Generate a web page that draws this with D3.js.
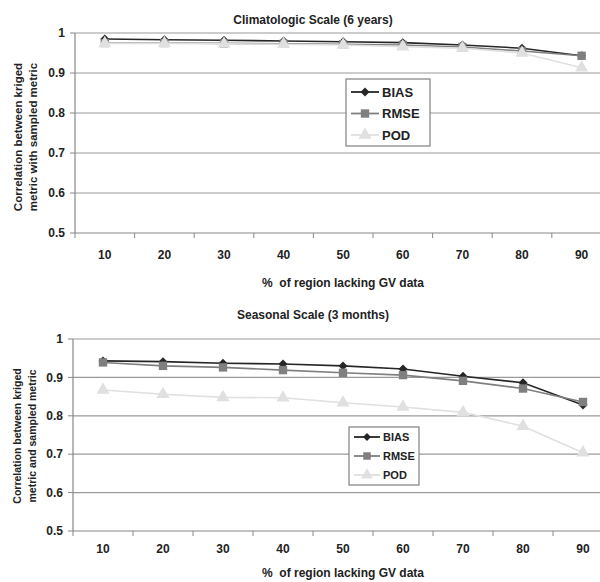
<!DOCTYPE html>
<html><head><meta charset="utf-8">
<script src="https://cdn.jsdelivr.net/npm/d3@7/dist/d3.min.js"></script>
<style>body{margin:0;background:#fff}svg{display:block}text{font-family:"Liberation Sans",Arial,sans-serif;font-weight:bold;fill:#222}</style>
</head><body><svg id="c" width="600" height="582"></svg>
<script>
const categories = ["10","20","30","40","50","60","70","80","90"];
const yTicks = [0.5,0.6,0.7,0.8,0.9,1];
const seriesNames = ["BIAS","RMSE","POD"];
const climBIAS = [0.985,0.983,0.982,0.980,0.978,0.976,0.970,0.962,0.943];
const climRMSE = [0.975,0.975,0.974,0.973,0.972,0.970,0.965,0.955,0.943];
const climPOD  = [0.974,0.974,0.973,0.972,0.970,0.966,0.962,0.950,0.913];
const seasBIAS = [0.943,0.941,0.937,0.935,0.930,0.922,0.903,0.886,0.828];
const seasRMSE = [0.939,0.930,0.926,0.919,0.912,0.906,0.891,0.871,0.836];
const seasPOD  = [0.867,0.856,0.848,0.847,0.834,0.823,0.809,0.773,0.704];

const svg = d3.select("#c");
const styles = {
  BIAS:{color:"#262626", sym:d3.symbolSquare, size:40, rot:45},
  RMSE:{color:"#7f7f7f", sym:d3.symbolSquare, size:70, rot:0},
  POD:{color:"#e0e0e0", sym:d3.symbolTriangle, size:75, rot:0}
};

function panel(cfg){
  const g = svg.append("g");
  const x = d3.scaleBand().domain(categories).range([cfg.left, cfg.left + 9*cfg.band]);
  const y = d3.scaleLinear().domain([0.5,1]).range([cfg.bottom, cfg.top]);
  g.selectAll("line.grid").data(yTicks.filter(v=>v>0.5)).join("line")
    .attr("x1", cfg.left).attr("x2", 600).attr("y1", d=>y(d)).attr("y2", d=>y(d))
    .attr("stroke","#9a9a9a").attr("stroke-width",1.2);
  g.append("line").attr("x1",cfg.left).attr("x2",600).attr("y1",y(0.5)).attr("y2",y(0.5)).attr("stroke","#888").attr("stroke-width",1.2);
  g.append("line").attr("x1",cfg.left).attr("x2",cfg.left).attr("y1",y(0.5)).attr("y2",y(1)).attr("stroke","#888").attr("stroke-width",1.2);
  g.selectAll("line.yt").data(yTicks).join("line")
    .attr("x1",cfg.left-5).attr("x2",cfg.left).attr("y1",d=>y(d)).attr("y2",d=>y(d)).attr("stroke","#888");
  g.selectAll("text.yl").data(yTicks).join("text")
    .attr("x",cfg.left-10).attr("y",d=>y(d)).attr("dy","0.35em").attr("text-anchor","end")
    .attr("font-size",12).text(d=>d===1?"1":d3.format(".1f")(d));
  g.selectAll("line.xt").data(categories).join("line")
    .attr("x1",d=>x(d)).attr("x2",d=>x(d)).attr("y1",y(0.5)).attr("y2",y(0.5)+5).attr("stroke","#888");
  g.selectAll("text.xl").data(categories).join("text")
    .attr("x",d=>x(d)+x.bandwidth()/2).attr("y",cfg.xLabelY).attr("dy","0.35em").attr("text-anchor","middle")
    .attr("font-size",12).text(d=>d);
  g.append("text").attr("x",cfg.titleX).attr("y",cfg.titleY).attr("dy","0.35em").attr("text-anchor","middle")
    .attr("font-size",12).text(cfg.title);
  g.append("text").attr("x",343).attr("y",cfg.xTitleY).attr("dy","0.35em").attr("text-anchor","middle")
    .attr("font-size",12).style("white-space","pre").text("%  of region lacking GV data");
  cfg.yTitle.forEach((t,i)=>{
    g.append("text").attr("transform",`translate(${cfg.yTitleX[i]},${cfg.yTitleY}) rotate(-90)`)
      .attr("dy","0.35em").attr("text-anchor","middle").attr("font-size",cfg.yTitleSize).text(t);
  });
  const line = d3.line().x((d,i)=>x(categories[i])+x.bandwidth()/2).y(d=>y(d));
  cfg.data.forEach((vals,si)=>{
    const st = styles[seriesNames[si]];
    g.append("path").datum(vals).attr("d",line).attr("fill","none").attr("stroke",st.color).attr("stroke-width",1.6);
    g.selectAll(null).data(vals).join("path")
      .attr("transform",(d,i)=>`translate(${x(categories[i])+x.bandwidth()/2},${y(d)}) rotate(${st.rot})`)
      .attr("d",d3.symbol(st.sym,st.size)).attr("fill",st.color);
  });
  const L = cfg.legend;
  const lg = g.append("g");
  lg.append("rect").attr("x",L.x).attr("y",L.y).attr("width",L.w).attr("height",L.h)
    .attr("fill","#fff").attr("stroke","#808080").attr("stroke-width",1.2);
  seriesNames.forEach((n,i)=>{
    const st = styles[n];
    const cy = L.y + L.pad + i*L.step;
    lg.append("line").attr("x1",L.x+5).attr("x2",L.x+5+L.lineW).attr("y1",cy).attr("y2",cy).attr("stroke",st.color).attr("stroke-width",1.8);
    lg.append("path").attr("transform",`translate(${L.x+5+L.lineW/2},${cy}) rotate(${st.rot})`).attr("d",d3.symbol(st.sym,st.size*L.symScale)).attr("fill",st.color);
    lg.append("text").attr("x",L.x+8+L.lineW).attr("y",cy).attr("dy","0.35em").attr("font-size",L.font).text(n);
  });
}

panel({left:75, band:59.6, top:33, bottom:233, xLabelY:255, titleX:313, titleY:20, xTitleY:283,
  title:"Climatologic Scale (6 years)",
  yTitle:["Correlation between kriged","metric with sampled metric"], yTitleX:[18,33], yTitleY:137, yTitleSize:11.5,
  data:[climBIAS,climRMSE,climPOD],
  legend:{x:346,y:79,w:84,h:67,pad:13,step:21.5,lineW:28,font:13,symScale:1}
});
panel({left:73, band:60, top:339, bottom:531, xLabelY:549, titleX:313, titleY:315, xTitleY:573,
  title:"Seasonal Scale (3 months)",
  yTitle:["Correlation between kriged","metric and sampled metric"], yTitleX:[17,32], yTitleY:436, yTitleSize:10.5,
  data:[seasBIAS,seasRMSE,seasPOD],
  legend:{x:349,y:427,w:70,h:58,pad:10,step:19,lineW:26,font:11,symScale:0.8}
});
</script></body></html>
